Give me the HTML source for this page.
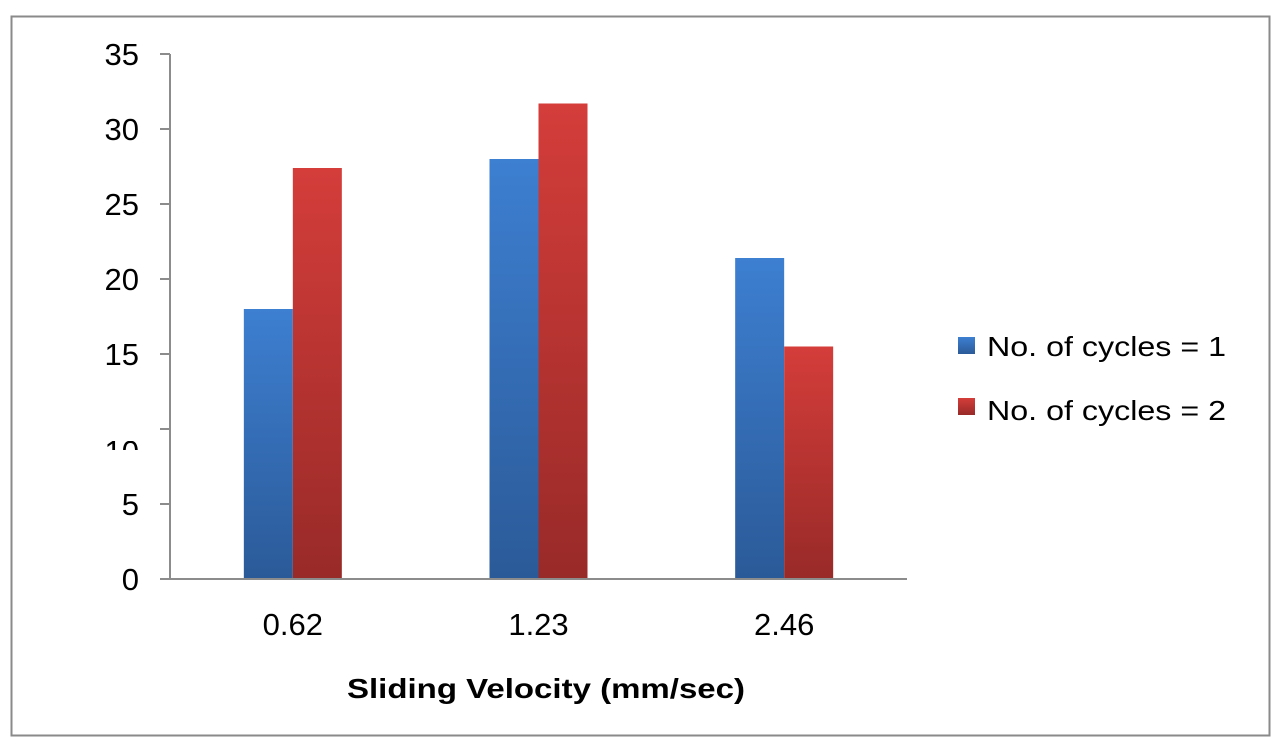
<!DOCTYPE html>
<html><head><meta charset="utf-8"><style>
html,body{margin:0;padding:0;background:#fff}
svg{display:block;font-family:"Liberation Sans","DejaVu Sans",sans-serif}
</style></head><body>
<svg id="chart" width="1280" height="749">
<defs>
<linearGradient id="gb" x1="0" y1="0" x2="0" y2="1"><stop offset="0" stop-color="#3d7fd1"/><stop offset="1" stop-color="#2b5a98"/></linearGradient>
<linearGradient id="gr" x1="0" y1="0" x2="0" y2="1"><stop offset="0" stop-color="#d43d3a"/><stop offset="1" stop-color="#982a28"/></linearGradient>
<clipPath id="clip10"><rect x="90" y="441" width="60" height="9"/></clipPath>
</defs>
<rect x="11.5" y="16.5" width="1258" height="719" fill="#fff" stroke="#8a8a8a" stroke-width="2"/>
<g id="axes"></g>
<g id="bars"></g>
<text x="546" y="698" font-size="28" font-weight="bold" text-anchor="middle" textLength="398" lengthAdjust="spacingAndGlyphs" fill="#000">Sliding Velocity (mm/sec)</text>
<g>
<g><rect x="958" y="337" width="17" height="17" fill="url(#gb)"/><text x="987" y="356" font-size="28" textLength="239" lengthAdjust="spacingAndGlyphs" fill="#000">No. of cycles = 1</text></g>
<g><rect x="958" y="398" width="17" height="17" fill="url(#gr)"/><text x="987" y="420" font-size="28" textLength="239" lengthAdjust="spacingAndGlyphs" fill="#000">No. of cycles = 2</text></g>
</g>
</svg>
<script>
const categories = ["0.62","1.23","2.46"];
const series1 = [18, 28, 21.4];
const series2 = [27.4, 31.7, 15.5];
const yTicks = [0,5,10,15,20,25,30,35];
const NS="http://www.w3.org/2000/svg";
const x0=170,x1=907,y0=579,yMax=35,plotH=525;
const y=v=>y0-v/yMax*plotH;
const bw=(x1-x0)/categories.length;
const xc=i=>x0+bw*(i+0.5);
function mk(tag,attrs,parent){const e=document.createElementNS(NS,tag);for(const k in attrs)e.setAttribute(k,attrs[k]);parent.appendChild(e);return e;}
const axes=document.getElementById('axes'),bars=document.getElementById('bars');
const ya=mk('line',{x1:x0,y1:y(yMax),x2:x0,y2:y0,stroke:'#8c8c8c','stroke-width':2},axes);


yTicks.forEach(t=>{
  const l=mk('line',{x1:x0-10,y1:y(t),x2:x0,y2:y(t),stroke:'#8c8c8c','stroke-width':2},axes);
  
  
  const ty = t===10 ? y(t)+33 : y(t)+11;
  const tx=mk('text',{x:139,y:ty,'font-size':31,'text-anchor':'end',fill:'#000'},axes);
  if(t===10)tx.setAttribute('clip-path','url(#clip10)');
  tx.textContent=t;
  
  
});
categories.forEach((c,i)=>{
  const w=49;
  const b1=mk('rect',{x:xc(i)-w,y:y(series1[i]),width:w,height:y0-y(series1[i]),fill:'url(#gb)'},bars);
  
  
  const b2=mk('rect',{x:xc(i),y:y(series2[i]),width:w,height:y0-y(series2[i]),fill:'url(#gr)'},bars);
  
  
  const tl=mk('text',{x:xc(i),y:635,'font-size':31,'text-anchor':'middle',fill:'#000'},axes);
  tl.textContent=c;
  
  
});
const xa=mk('line',{x1:x0-10,y1:y0,x2:x1,y2:y0,stroke:'#8c8c8c','stroke-width':2},bars);


</script>
</body></html>
